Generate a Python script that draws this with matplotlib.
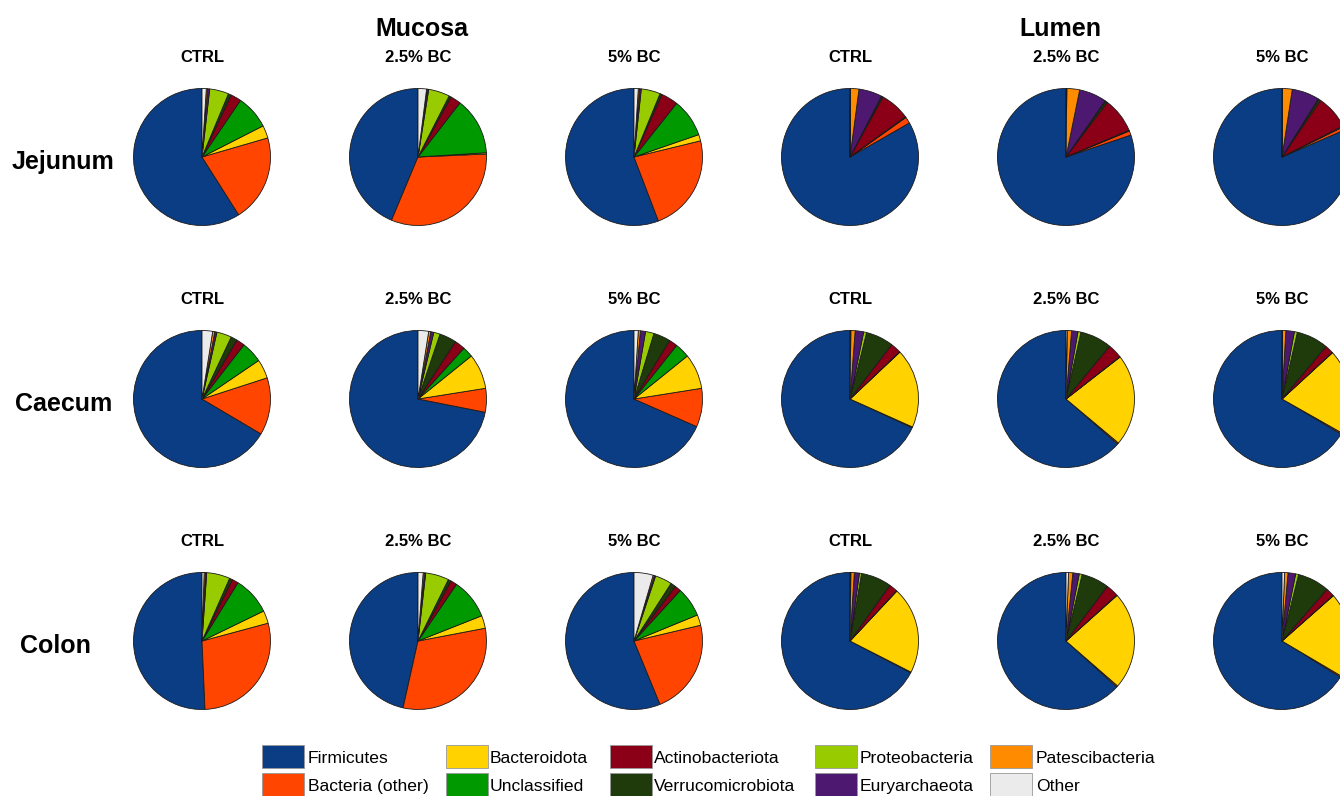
import matplotlib
matplotlib.use("Agg")
import matplotlib.pyplot as plt
from matplotlib.patches import Rectangle

plt.rcParams['font.family'] = ['Liberation Sans', 'DejaVu Sans']

# Phyla in legend order; pies run counter-clockwise from 12 o'clock in this order
phyla = ['Firmicutes', 'Bacteria (other)', 'Bacteroidota', 'Unclassified',
         'Actinobacteriota', 'Verrucomicrobiota', 'Proteobacteria',
         'Euryarchaeota', 'Patescibacteria', 'Other']
colors = ['#0A3D84', '#FF4500', '#FFD200', '#009A00', '#8B0016',
          '#1F3A0B', '#99CC00', '#4D1870', '#FF8C00', '#EBEBEB']

treatments = ['CTRL', '2.5% BC', '5% BC']
sites = ['Jejunum', 'Caecum', 'Colon']
compartments = ['Mucosa', 'Lumen']

# Relative abundance (%) per treatment: CTRL, 2.5% BC, 5% BC
jejunum_mucosa = [
    [59.0, 20.5, 3.0, 8.0, 2.5, 0.7, 4.5, 0.5, 0.3, 1.0],
    [43.7, 32.0, 0.3, 13.5, 2.5, 0.5, 5.0, 0.3, 0.2, 2.0],
    [55.8, 23.0, 1.5, 9.0, 4.0, 0.5, 4.5, 0.4, 0.3, 1.0],
]
jejunum_lumen = [
    [83.3, 1.5, 0.1, 0.1, 7.0, 0.3, 0.1, 5.5, 2.0, 0.1],
    [80.2, 1.0, 0.1, 0.1, 8.3, 0.5, 0.1, 6.5, 3.0, 0.2],
    [81.5, 0.8, 0.1, 0.1, 8.0, 0.5, 0.1, 6.5, 2.3, 0.1],
]
caecum_mucosa = [
    [66.5, 13.5, 4.5, 5.0, 2.0, 1.5, 3.5, 0.5, 0.5, 2.5],
    [71.9, 5.6, 8.3, 2.5, 2.5, 4.0, 1.5, 0.7, 0.5, 2.5],
    [68.4, 9.1, 8.3, 3.5, 2.0, 4.0, 2.0, 1.2, 0.5, 1.0],
]
caecum_lumen = [
    [68.1, 0.2, 18.7, 0.1, 2.5, 6.5, 0.7, 2.0, 1.0, 0.2],
    [63.6, 0.3, 21.6, 0.1, 3.4, 7.5, 0.7, 1.5, 1.0, 0.3],
    [66.5, 0.3, 20.0, 0.1, 2.0, 7.5, 0.7, 2.0, 0.8, 0.1],
]
colon_mucosa = [
    [50.7, 28.5, 3.0, 9.0, 1.5, 0.7, 5.5, 0.3, 0.3, 0.5],
    [46.5, 31.5, 3.0, 9.5, 1.5, 0.7, 5.5, 0.3, 0.3, 1.2],
    [56.2, 22.5, 2.5, 7.0, 1.5, 1.2, 4.0, 0.3, 0.3, 4.5],
]
colon_lumen = [
    [67.3, 0.2, 20.5, 0.1, 2.0, 7.2, 0.5, 1.2, 0.8, 0.2],
    [63.3, 0.3, 23.0, 0.1, 3.0, 6.5, 0.7, 1.5, 1.0, 0.6],
    [66.2, 0.3, 20.0, 0.1, 2.0, 7.5, 0.7, 1.8, 0.8, 0.6],
]

rows = [
    (jejunum_mucosa, jejunum_lumen),
    (caecum_mucosa, caecum_lumen),
    (colon_mucosa, colon_lumen),
]

W, H = 1340, 796
fig = plt.figure(figsize=(W / 100, H / 100), dpi=100)
fig.patch.set_facecolor('white')

col_x = [202, 418, 634, 850, 1066, 1282]
row_y = [157, 399, 641]
radius = 68.5
pad = 1.03


def fx(x):
    return x / W


def fy(y):
    return 1 - y / H


for r, (muc, lum) in enumerate(rows):
    series = list(muc) + list(lum)
    for c, vals in enumerate(series):
        cx, cy = col_x[c], row_y[r]
        half = radius * pad
        ax = fig.add_axes([fx(cx - half), fy(cy + half), 2 * half / W, 2 * half / H])
        ax.pie(vals, colors=colors, startangle=90, counterclock=True, radius=1,
               wedgeprops=dict(edgecolor='#1a1a1a', linewidth=0.6))
        ax.set_xlim(-pad, pad)
        ax.set_ylim(-pad, pad)
        ax.set_aspect('equal')
        ax.axis('off')
        fig.text(fx(cx), fy(cy - 100), treatments[c % 3], ha='center', va='center',
                 fontsize=12, fontweight='bold')

# Compartment headings
fig.text(fx(422), fy(29), compartments[0], ha='center', va='center',
         fontsize=18, fontweight='bold')
fig.text(fx(1060), fy(29), compartments[1], ha='center', va='center',
         fontsize=18, fontweight='bold')

# Site labels
site_x = [12, 15, 20]
for r, name in enumerate(sites):
    fig.text(fx(site_x[r]), fy(row_y[r] + 5), name, ha='left', va='center',
             fontsize=18, fontweight='bold')

# Legend, filled column by column
leg_patch_x = [262, 446, 610, 815, 990]
leg_text_x = [308, 490, 654, 860, 1036]
leg_row_top = [745, 773]
pw, ph = 42, 23
for i, (name, col) in enumerate(zip(phyla, colors)):
    c, r = divmod(i, 2)
    x0, y0 = leg_patch_x[c], leg_row_top[r]
    fig.patches.append(Rectangle((fx(x0), fy(y0 + ph)), pw / W, ph / H,
                                 transform=fig.transFigure, facecolor=col,
                                 edgecolor='#999999', linewidth=0.6))
    fig.text(fx(leg_text_x[c]), fy(y0 + ph / 2 + 2), name, ha='left', va='center',
             fontsize=12.6)

fig.savefig('out.png', dpi=100, facecolor='white')
